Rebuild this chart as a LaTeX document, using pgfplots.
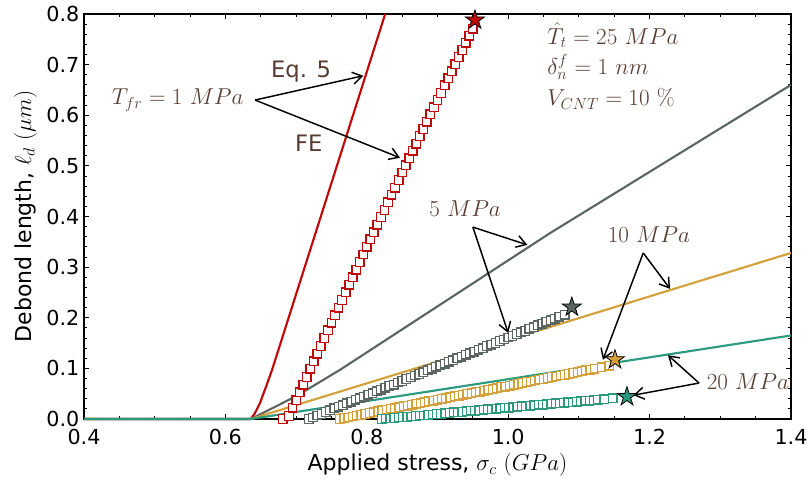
\documentclass[border=0pt]{standalone}
\usepackage[no-math]{fontspec}
\setmainfont{DejaVu Sans}
\usepackage{pgfplots}
\pgfplotsset{compat=1.18}
\usetikzlibrary{arrows.meta}

\definecolor{cred}{RGB}{192,8,8}
\definecolor{cgray}{RGB}{92,102,96}
\definecolor{cgold}{RGB}{212,160,58}
\definecolor{cteal}{RGB}{44,154,126}
\definecolor{cbrown}{RGB}{88,60,50}

% filled five-pointed star
\pgfdeclareplotmark{fstar}{%
  \pgfpathmoveto{\pgfpointpolar{90}{\pgfplotmarksize}}%
  \pgfpathlineto{\pgfpointpolar{126}{0.382\pgfplotmarksize}}%
  \pgfpathlineto{\pgfpointpolar{162}{\pgfplotmarksize}}%
  \pgfpathlineto{\pgfpointpolar{198}{0.382\pgfplotmarksize}}%
  \pgfpathlineto{\pgfpointpolar{234}{\pgfplotmarksize}}%
  \pgfpathlineto{\pgfpointpolar{270}{0.382\pgfplotmarksize}}%
  \pgfpathlineto{\pgfpointpolar{306}{\pgfplotmarksize}}%
  \pgfpathlineto{\pgfpointpolar{342}{0.382\pgfplotmarksize}}%
  \pgfpathlineto{\pgfpointpolar{18}{\pgfplotmarksize}}%
  \pgfpathlineto{\pgfpointpolar{54}{0.382\pgfplotmarksize}}%
  \pgfpathclose
  \pgfusepathqfillstroke}

\begin{document}
\begin{tikzpicture}
\useasboundingbox (0,0) rectangle (608.25pt,363pt);
\begin{axis}[
  at={(63pt,48.75pt)}, anchor=south west,
  scale only axis, width=530.25pt, height=303.75pt,
  xmin=0.4, xmax=1.4, ymin=0, ymax=0.8,
  xtick={0.4,0.6,0.8,1.0,1.2,1.4},
  ytick={0,0.1,0.2,0.3,0.4,0.5,0.6,0.7,0.8},
  minor x tick num=3, minor y tick num=4,
  tick align=inside,
  major tick length=4pt, minor tick length=2.3pt,
  every tick/.style={black, line width=0.7pt},
  axis line style={line width=0.9pt},
  tick label style={font=\fontsize{15.5}{18}\selectfont},
  label style={font=\fontsize{16.5}{20}\selectfont},
  xticklabel style={yshift=-4pt},
  /pgf/number format/fixed,
  /pgf/number format/fixed zerofill,
  /pgf/number format/precision=1,
  /pgf/number format/assume math mode=true,
  scaled ticks=false,
  xlabel={Applied stress, $\sigma_c$ $(GPa)$},
  ylabel={Debond length, $\ell_d$ $(\mu m)$},
  xlabel style={at={(axis description cs:0.5,-0.114)}, anchor=center},
  ylabel style={at={(axis description cs:-0.083,0.5)}, anchor=center},
  clip=false,
  sq/.style={only marks, mark=square*, mark size=3.2pt,
    mark options={draw=#1, fill=white, line width=1pt}},
  st/.style={only marks, mark=fstar, mark size=7.5pt,
    mark options={fill=#1, draw=black, line width=0.6pt}},
]
% T_fr = 1 MPa
\addplot[cred, line width=1.6pt] coordinates {
  (0.4,0) (0.636,0) (0.642,0.012) (0.649,0.032) (0.657,0.062) (0.666,0.097) (0.826,0.8)};
\addplot[sq=cred] coordinates {
  (0.681,0.000) (0.690,0.006) (0.695,0.022) (0.700,0.037) (0.705,0.053)
  (0.710,0.068) (0.715,0.083) (0.720,0.099) (0.725,0.114) (0.730,0.129)
  (0.735,0.144) (0.740,0.160) (0.745,0.175) (0.750,0.190) (0.755,0.205)
  (0.760,0.220) (0.765,0.235) (0.770,0.250) (0.775,0.265) (0.780,0.280)
  (0.785,0.295) (0.790,0.310) (0.795,0.325) (0.800,0.340) (0.805,0.355)
  (0.810,0.369) (0.815,0.384) (0.820,0.399) (0.825,0.413) (0.830,0.428)
  (0.835,0.443) (0.840,0.457) (0.845,0.472) (0.850,0.487) (0.855,0.501)
  (0.860,0.515) (0.865,0.530) (0.870,0.544) (0.875,0.559) (0.880,0.573)
  (0.885,0.587) (0.890,0.602) (0.895,0.616) (0.900,0.630) (0.905,0.644)
  (0.910,0.659) (0.915,0.673) (0.920,0.687) (0.925,0.701) (0.930,0.715)
  (0.935,0.729) (0.940,0.743) (0.945,0.757) (0.950,0.771)};
% 5 MPa
\addplot[cgray, line width=1.6pt] coordinates {
  (0.4,0) (0.636,0) (0.700,0.045) (0.762,0.097) (1.059,0.367) (1.4,0.66)};
\addplot[sq=cgray] coordinates {
  (0.718,0.000) (0.724,0.003) (0.730,0.007) (0.736,0.010) (0.742,0.014)
  (0.748,0.017) (0.754,0.021) (0.760,0.024) (0.766,0.027) (0.772,0.031)
  (0.778,0.034) (0.784,0.038) (0.790,0.041) (0.796,0.044) (0.802,0.048)
  (0.808,0.051) (0.814,0.055) (0.820,0.058) (0.826,0.062) (0.832,0.065)
  (0.838,0.068) (0.844,0.072) (0.850,0.075) (0.856,0.079) (0.862,0.082)
  (0.868,0.086) (0.874,0.089) (0.880,0.092) (0.886,0.096) (0.892,0.099)
  (0.898,0.103) (0.904,0.106) (0.910,0.109) (0.916,0.113) (0.922,0.116)
  (0.928,0.120) (0.934,0.123) (0.940,0.127) (0.946,0.130) (0.952,0.133)
  (0.958,0.137) (0.964,0.140) (0.970,0.144) (0.976,0.147) (0.982,0.150)
  (0.988,0.154) (0.994,0.157) (1.000,0.161) (1.006,0.164) (1.012,0.168)
  (1.018,0.171) (1.024,0.174) (1.030,0.178) (1.036,0.181) (1.042,0.185)
  (1.048,0.188) (1.054,0.192) (1.060,0.195) (1.066,0.198) (1.072,0.202)
  (1.080,0.206)};
% 10 MPa
\addplot[cgold, line width=1.6pt] coordinates {
  (0.4,0) (0.636,0) (1.4,0.328)};
\addplot[sq=cgold] coordinates {
  (0.762,0.000) (0.768,0.002) (0.774,0.003) (0.780,0.005) (0.786,0.007)
  (0.792,0.008) (0.798,0.010) (0.804,0.012) (0.810,0.013) (0.816,0.015)
  (0.822,0.017) (0.828,0.018) (0.834,0.020) (0.840,0.021) (0.846,0.023)
  (0.852,0.025) (0.858,0.026) (0.864,0.028) (0.870,0.030) (0.876,0.031)
  (0.882,0.033) (0.888,0.035) (0.894,0.036) (0.900,0.038) (0.906,0.040)
  (0.912,0.041) (0.918,0.043) (0.924,0.045) (0.930,0.046) (0.936,0.048)
  (0.942,0.050) (0.948,0.051) (0.954,0.053) (0.960,0.054) (0.966,0.056)
  (0.972,0.058) (0.978,0.059) (0.984,0.061) (0.990,0.063) (0.996,0.064)
  (1.002,0.066) (1.008,0.068) (1.014,0.069) (1.020,0.071) (1.026,0.073)
  (1.032,0.074) (1.038,0.076) (1.044,0.078) (1.050,0.079) (1.056,0.081)
  (1.062,0.083) (1.068,0.084) (1.074,0.086) (1.080,0.087) (1.086,0.089)
  (1.092,0.091) (1.098,0.092) (1.104,0.094) (1.110,0.096) (1.116,0.097)
  (1.122,0.099) (1.132,0.102) (1.143,0.105)};
% 20 MPa
\addplot[cteal, line width=1.6pt] coordinates {
  (0.4,0) (0.636,0) (1.4,0.165)};
\addplot[sq=cteal] coordinates {
  (0.821,0.000) (0.827,0.001) (0.833,0.001) (0.839,0.002) (0.845,0.003)
  (0.851,0.004) (0.857,0.004) (0.863,0.005) (0.869,0.006) (0.875,0.007)
  (0.881,0.007) (0.887,0.008) (0.893,0.009) (0.899,0.010) (0.905,0.010)
  (0.911,0.011) (0.917,0.012) (0.923,0.013) (0.929,0.013) (0.935,0.014)
  (0.941,0.015) (0.947,0.016) (0.953,0.016) (0.959,0.017) (0.965,0.018)
  (0.971,0.019) (0.977,0.019) (0.983,0.020) (0.989,0.021) (0.995,0.022)
  (1.001,0.022) (1.007,0.023) (1.013,0.024) (1.019,0.025) (1.025,0.025)
  (1.031,0.026) (1.037,0.027) (1.043,0.028) (1.049,0.028) (1.055,0.029)
  (1.061,0.030) (1.067,0.031) (1.073,0.031) (1.079,0.032) (1.085,0.033)
  (1.091,0.033) (1.097,0.034) (1.103,0.035) (1.109,0.036) (1.115,0.036)
  (1.121,0.037) (1.127,0.038) (1.136,0.039) (1.148,0.041)};
% failure points
\addplot[st=cred]  coordinates {(0.953,0.788)};
\addplot[st=cgray] coordinates {(1.090,0.221)};
\addplot[st=cgold] coordinates {(1.151,0.117)};
\addplot[st=cteal] coordinates {(1.168,0.044)};

% annotations
\tikzset{arr/.style={black, line width=1.1pt, -{Straight Barb[length=7pt,width=9pt]}},
  lbl/.style={text=cbrown, font=\fontsize{17}{20}\selectfont, inner sep=0pt}}
\node[lbl, anchor=east] at (0.626,0.630) {$T_{fr} = 1\ MPa$};
\node[lbl] at (0.707,0.686) {Eq. 5};
\node[lbl] at (0.718,0.545) {FE};
\draw[arr] (0.642,0.630) -- (0.795,0.678);
\draw[arr] (0.642,0.630) -- (0.847,0.516);

\node[lbl] at (0.939,0.415) {$5\ MPa$};
\draw[arr] (0.950,0.379) -- (1.027,0.344);
\draw[arr] (0.950,0.379) -- (1.000,0.170);

\node[lbl] at (1.199,0.365) {$10\ MPa$};
\draw[arr] (1.191,0.328) -- (1.229,0.257);
\draw[arr] (1.191,0.328) -- (1.134,0.117);

\node[lbl] at (1.339,0.073) {$20\ MPa$};
\draw[arr] (1.270,0.071) -- (1.226,0.126);
\draw[arr] (1.270,0.071) -- (1.177,0.047);

\node[lbl, anchor=west] at (1.055,0.758) {$\hat{T}_t = 25\ MPa$};
\node[lbl, anchor=west] at (1.055,0.695) {$\delta_n^f = 1\ nm$};
\node[lbl, anchor=west] at (1.055,0.632) {$V_{CNT} = 10\ \%$};
\end{axis}
\end{tikzpicture}
\end{document}
